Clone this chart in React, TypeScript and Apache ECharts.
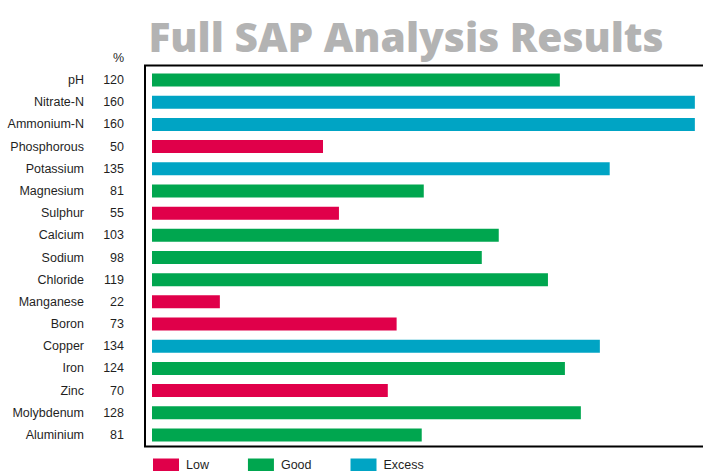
import React, { useEffect, useRef } from "react";
import * as echarts from "echarts";

const categories = [
  "pH", "Nitrate-N", "Ammonium-N", "Phosphorous", "Potassium", "Magnesium",
  "Sulphur", "Calcium", "Sodium", "Chloride", "Manganese", "Boron",
  "Copper", "Iron", "Zinc", "Molybdenum", "Aluminium",
];
// printed values (label column)
const labelValues = [120, 160, 160, 50, 135, 81, 55, 103, 98, 119, 22, 73, 134, 124, 70, 128, 81];
// bar lengths as drawn in the picture (same units)
const barValues = [120.2, 160, 160, 50.4, 134.9, 80.1, 55.1, 102.2, 97.2, 116.7, 20, 72.1, 132, 121.7, 69.5, 126.4, 79.5];
const statuses = [
  "Good", "Excess", "Excess", "Low", "Excess", "Good",
  "Low", "Good", "Good", "Good", "Low", "Low",
  "Excess", "Good", "Low", "Good", "Good",
];
const levels = ["Low", "Good", "Excess"];
const levelColors = ["#e0004a", "#00a64f", "#00a4c4"];

const FONT = "'Liberation Sans', Arial, sans-serif";
const TXT = "#1f1f1f";

export default function App() {
  const ref = useRef<HTMLDivElement>(null);
  useEffect(() => {
    if (!ref.current) return;
    const chart = echarts.init(ref.current, null, { renderer: "svg" });
    chart.setOption({
      animation: false,
      backgroundColor: "#ffffff",
      grid: { left: 152, top: 69, height: 377, right: 0, containLabel: false },
      xAxis: { type: "value", min: 0, max: 162.4, show: false },
      yAxis: [
        {
          type: "category",
          data: categories,
          inverse: true,
          position: "left",
          axisLine: { show: false },
          axisTick: { show: false },
          splitLine: { show: false },
          axisLabel: { margin: 68, fontSize: 12.5, color: TXT, fontFamily: FONT },
        },
        {
          type: "category",
          data: categories,
          inverse: true,
          position: "left",
          axisLine: { show: false },
          axisTick: { show: false },
          splitLine: { show: false },
          axisLabel: {
            margin: 28,
            fontSize: 12.5,
            color: TXT,
            fontFamily: FONT,
            formatter: (_: string, i: number) => String(labelValues[i]),
          },
        },
      ],
      legend: {
        data: levels,
        left: 153,
        top: 458.5,
        padding: 0,
        itemWidth: 26,
        itemHeight: 13,
        itemGap: 39,
        icon: "rect",
        textStyle: { fontSize: 12.5, color: TXT, fontFamily: FONT, padding: [0, 0, 0, 2] },
      },
      series: levels.map((lv, k) => ({
        name: lv,
        type: "bar",
        yAxisIndex: 0,
        barWidth: 13,
        barGap: "-100%",
        itemStyle: { color: levelColors[k] },
        data: barValues.map((v, i) => (statuses[i] === lv ? v : "-")),
      })),
      graphic: [
        {
          type: "rect",
          shape: { x: 145, y: 65.5, width: 700, height: 381 },
          style: { fill: "none", stroke: "#000", lineWidth: 2 },
          silent: true,
        },
        {
          type: "text",
          x: 406,
          y: 36,
          style: {
            text: "Full SAP Analysis Results",
            fill: "#b3b3b3",
            font: "800 40.7px 'Open Sans', sans-serif",
            align: "center",
            verticalAlign: "middle",
          },
        },
        {
          type: "text",
          x: 124,
          y: 58,
          style: {
            text: "%",
            fill: TXT,
            font: `12.5px ${FONT}`,
            align: "right",
            verticalAlign: "middle",
          },
        },
      ],
    });
    return () => chart.dispose();
  }, []);
  return (
    <div
      ref={ref}
      style={{ position: "fixed", left: 0, top: 0, width: 703, height: 471 }}
    />
  );
}
